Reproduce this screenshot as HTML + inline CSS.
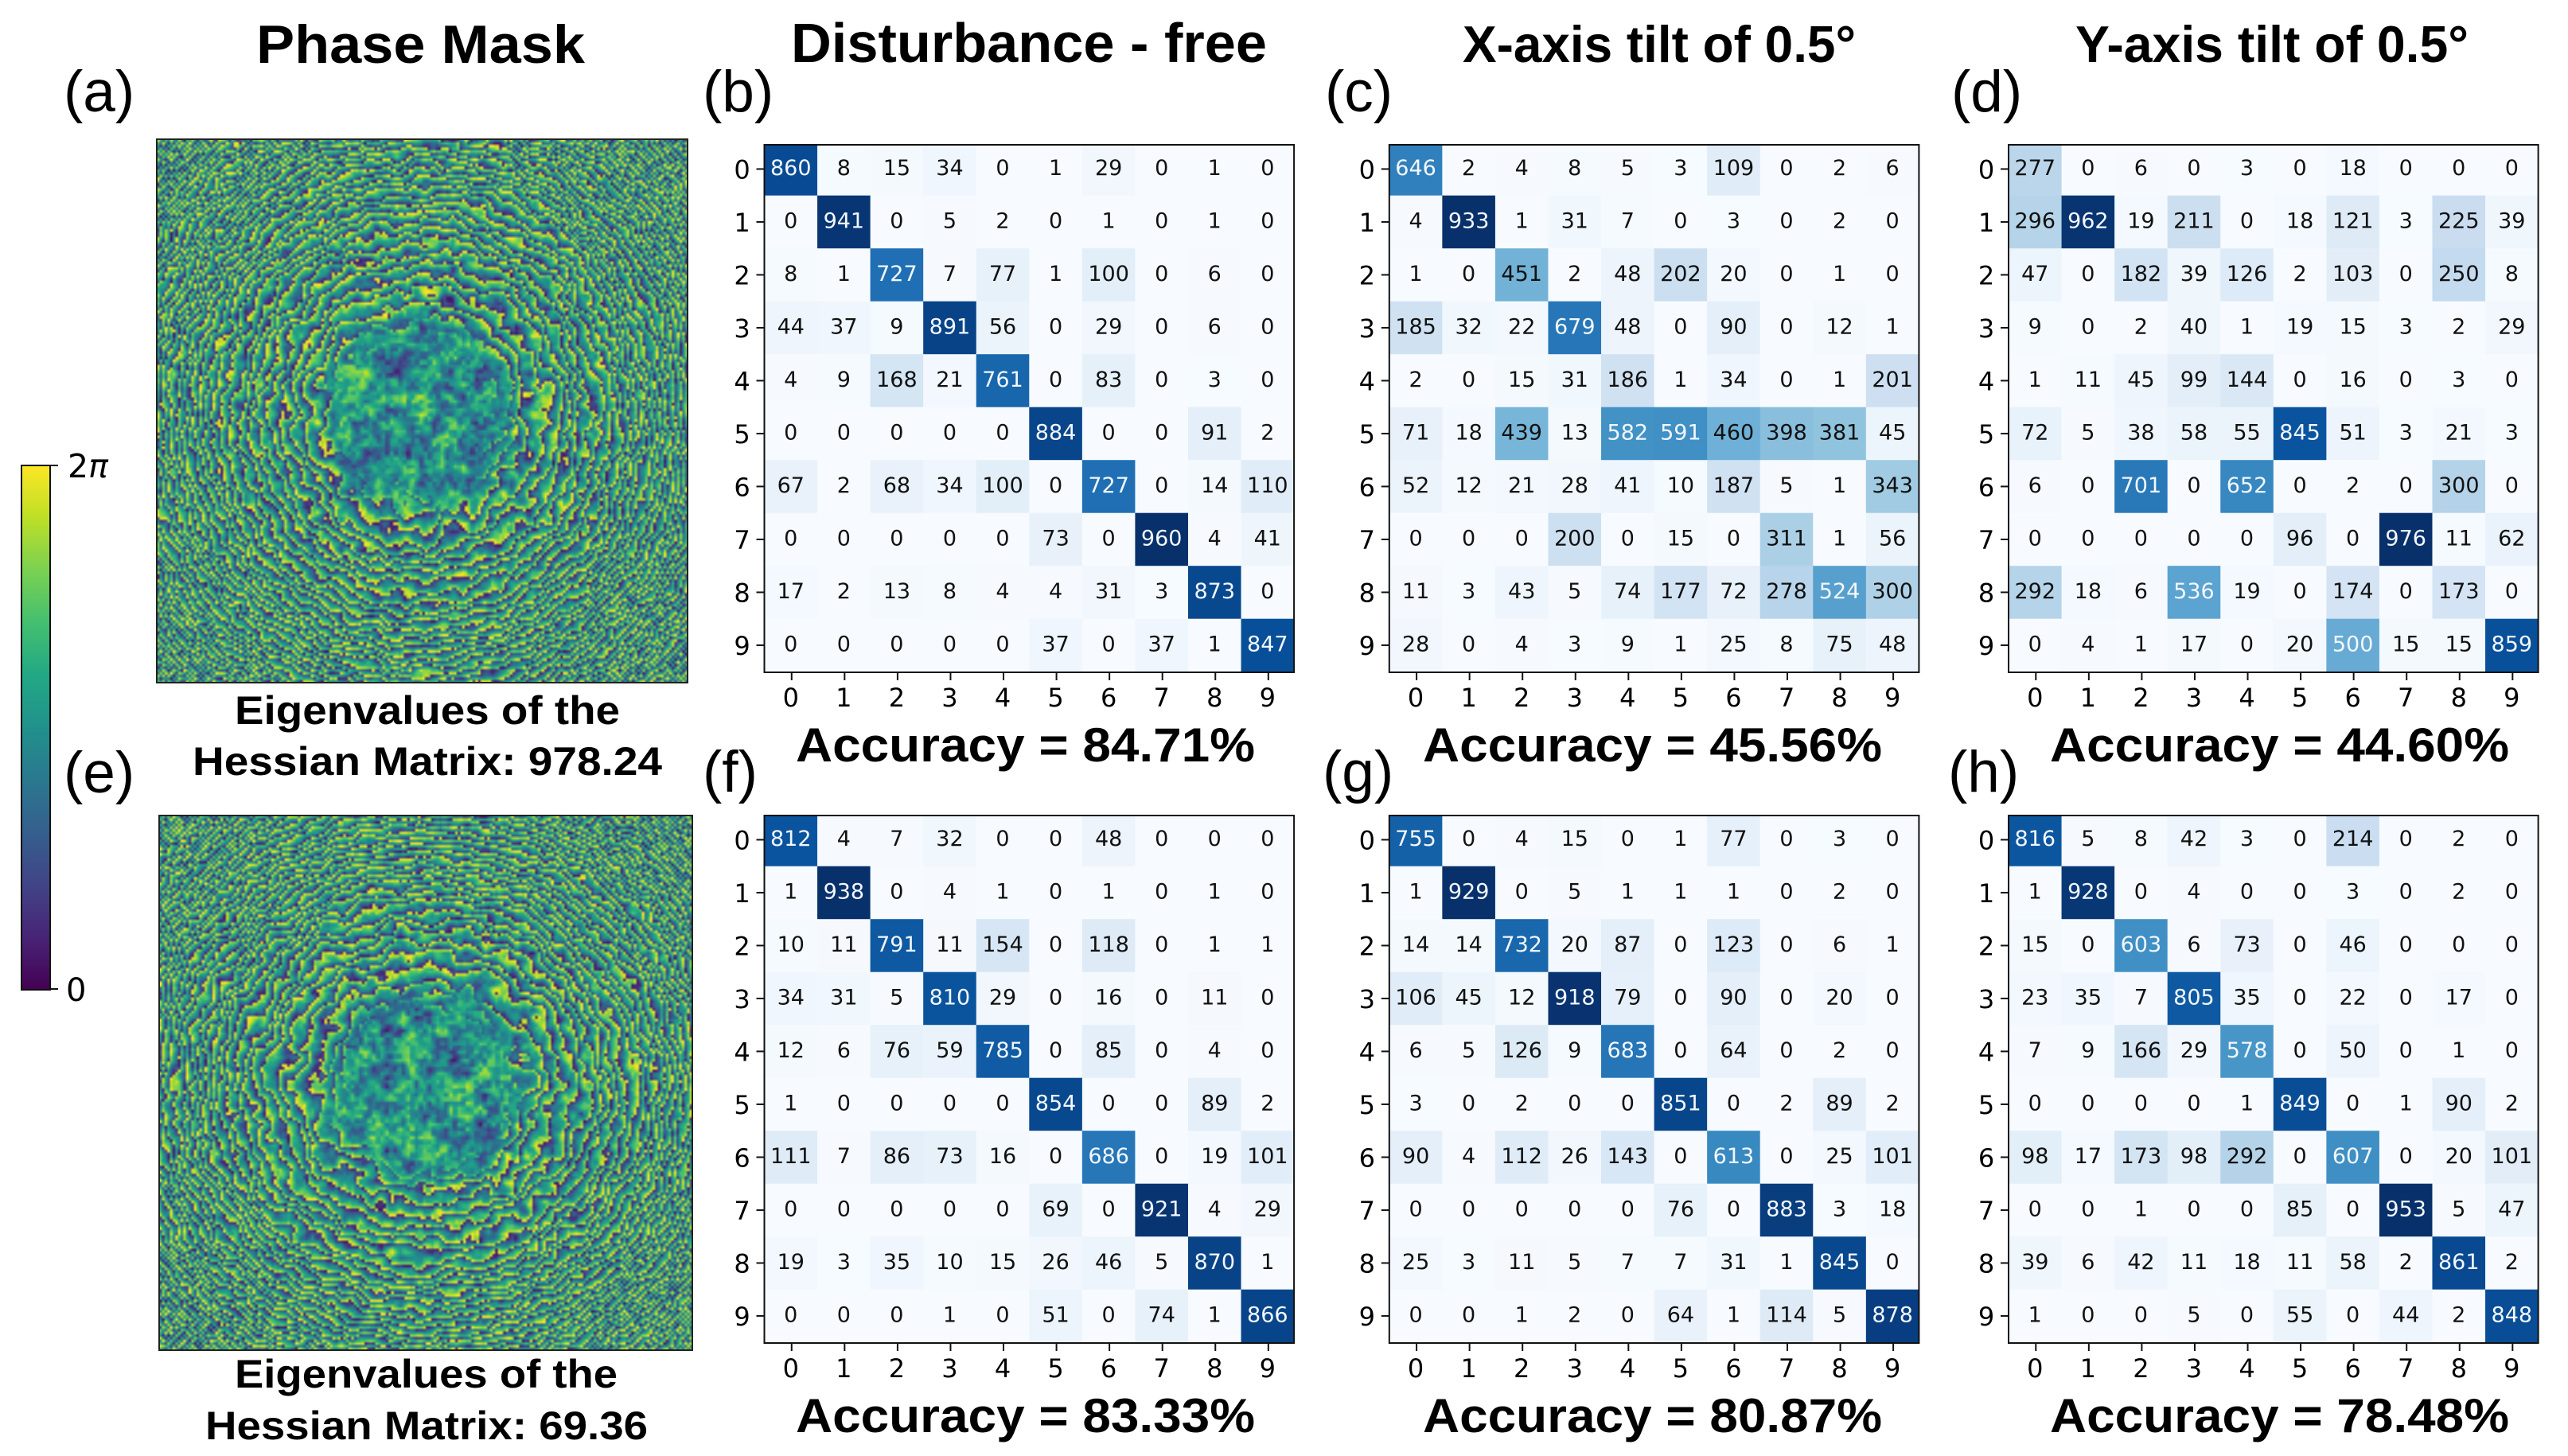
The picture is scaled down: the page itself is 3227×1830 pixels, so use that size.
<!DOCTYPE html>
<html lang="en">
<head>
<meta charset="utf-8">
<title>Phase masks and confusion matrices</title>
<style>
html,body{margin:0;padding:0;background:#fff;}
body{position:relative;width:3227px;height:1830px;overflow:hidden;}
canvas{position:absolute;display:block;}
svg{position:absolute;left:0;top:0;}
.b{font-family:"Liberation Sans",sans-serif;font-weight:700;fill:#000;}
.p{font-family:"Liberation Sans",sans-serif;font-size:73px;fill:#000;}
.d{font-family:"DejaVu Sans",sans-serif;fill:#000;}
</style>
</head>
<body>
<canvas id="mask-top" width="200" height="200" style="left:197px;top:175px;width:667px;height:683px"></canvas>
<canvas id="mask-bottom" width="200" height="200" style="left:200px;top:1025px;width:670px;height:672px"></canvas>
<svg id="fig" width="3227" height="1830" viewBox="0 0 3227 1830" xmlns="http://www.w3.org/2000/svg">
<defs>
<linearGradient id="viridis" x1="0" y1="1" x2="0" y2="0">
<stop offset="0" stop-color="#440154"/><stop offset=".1" stop-color="#482475"/><stop offset=".2" stop-color="#414487"/><stop offset=".3" stop-color="#355f8d"/><stop offset=".4" stop-color="#2a788e"/><stop offset=".5" stop-color="#21918c"/><stop offset=".6" stop-color="#22a884"/><stop offset=".7" stop-color="#44bf70"/><stop offset=".8" stop-color="#7ad151"/><stop offset=".9" stop-color="#bddf26"/><stop offset="1" stop-color="#fde725"/>
</linearGradient>
</defs>
<rect x="197" y="175" width="667" height="683" fill="none" stroke="#222" stroke-width="2"/>
<rect x="200" y="1025" width="670" height="672" fill="none" stroke="#222" stroke-width="2"/>

<text class="b" x="322" y="79" font-size="68" textLength="413" lengthAdjust="spacingAndGlyphs">Phase Mask</text>
<text class="b" x="994" y="78" font-size="70" textLength="598" lengthAdjust="spacingAndGlyphs">Disturbance - free</text>
<text class="b" x="1838" y="78" font-size="65" textLength="494" lengthAdjust="spacingAndGlyphs">X-axis tilt of 0.5°</text>
<text class="b" x="2608" y="78" font-size="65" textLength="494" lengthAdjust="spacingAndGlyphs">Y-axis tilt of 0.5°</text>

<text class="p" x="80" y="140">(a)</text>
<text class="p" x="883" y="140">(b)</text>
<text class="p" x="1665" y="140">(c)</text>
<text class="p" x="2452" y="140">(d)</text>
<text class="p" x="80" y="996">(e)</text>
<text class="p" x="883" y="995">(f)</text>
<text class="p" x="1662" y="995">(g)</text>
<text class="p" x="2448" y="995">(h)</text>

<text class="b" x="295" y="910" font-size="50" textLength="484" lengthAdjust="spacingAndGlyphs">Eigenvalues of the</text>
<text class="b" x="242" y="974" font-size="50" textLength="590" lengthAdjust="spacingAndGlyphs">Hessian Matrix: 978.24</text>
<text class="b" x="295" y="1744" font-size="50" textLength="481" lengthAdjust="spacingAndGlyphs">Eigenvalues of the</text>
<text class="b" x="258" y="1809" font-size="50" textLength="556" lengthAdjust="spacingAndGlyphs">Hessian Matrix: 69.36</text>

<text class="b" x="1000" y="957" font-size="60" textLength="577" lengthAdjust="spacingAndGlyphs">Accuracy = 84.71%</text>
<text class="b" x="1788" y="957" font-size="60" textLength="577" lengthAdjust="spacingAndGlyphs">Accuracy = 45.56%</text>
<text class="b" x="2576" y="957" font-size="60" textLength="577" lengthAdjust="spacingAndGlyphs">Accuracy = 44.60%</text>
<text class="b" x="1000" y="1800" font-size="60" textLength="577" lengthAdjust="spacingAndGlyphs">Accuracy = 83.33%</text>
<text class="b" x="1788" y="1800" font-size="60" textLength="577" lengthAdjust="spacingAndGlyphs">Accuracy = 80.87%</text>
<text class="b" x="2576" y="1800" font-size="60" textLength="577" lengthAdjust="spacingAndGlyphs">Accuracy = 78.48%</text>

<g>
<rect x="27" y="585" width="36" height="659" fill="url(#viridis)" stroke="#111" stroke-width="2"/>
<line x1="63" x2="73" y1="585" y2="585" stroke="#111" stroke-width="2"/>
<line x1="63" x2="73" y1="1243" y2="1243" stroke="#111" stroke-width="2"/>
<text class="d" x="85" y="600" font-size="41">2<tspan font-style="italic">π</tspan></text>
<text class="d" x="83" y="1258" font-size="40">0</text>
</g>
</svg>
<script>
/* ---------- chart data ---------- */
var categories = ["0","1","2","3","4","5","6","7","8","9"];
var tickLabels = ["0","1","2","3","4","5","6","7","8","9"];
var matrixB = [
[860,8,15,34,0,1,29,0,1,0],
[0,941,0,5,2,0,1,0,1,0],
[8,1,727,7,77,1,100,0,6,0],
[44,37,9,891,56,0,29,0,6,0],
[4,9,168,21,761,0,83,0,3,0],
[0,0,0,0,0,884,0,0,91,2],
[67,2,68,34,100,0,727,0,14,110],
[0,0,0,0,0,73,0,960,4,41],
[17,2,13,8,4,4,31,3,873,0],
[0,0,0,0,0,37,0,37,1,847]];
var matrixC = [
[646,2,4,8,5,3,109,0,2,6],
[4,933,1,31,7,0,3,0,2,0],
[1,0,451,2,48,202,20,0,1,0],
[185,32,22,679,48,0,90,0,12,1],
[2,0,15,31,186,1,34,0,1,201],
[71,18,439,13,582,591,460,398,381,45],
[52,12,21,28,41,10,187,5,1,343],
[0,0,0,200,0,15,0,311,1,56],
[11,3,43,5,74,177,72,278,524,300],
[28,0,4,3,9,1,25,8,75,48]];
var matrixD = [
[277,0,6,0,3,0,18,0,0,0],
[296,962,19,211,0,18,121,3,225,39],
[47,0,182,39,126,2,103,0,250,8],
[9,0,2,40,1,19,15,3,2,29],
[1,11,45,99,144,0,16,0,3,0],
[72,5,38,58,55,845,51,3,21,3],
[6,0,701,0,652,0,2,0,300,0],
[0,0,0,0,0,96,0,976,11,62],
[292,18,6,536,19,0,174,0,173,0],
[0,4,1,17,0,20,500,15,15,859]];
var matrixF = [
[812,4,7,32,0,0,48,0,0,0],
[1,938,0,4,1,0,1,0,1,0],
[10,11,791,11,154,0,118,0,1,1],
[34,31,5,810,29,0,16,0,11,0],
[12,6,76,59,785,0,85,0,4,0],
[1,0,0,0,0,854,0,0,89,2],
[111,7,86,73,16,0,686,0,19,101],
[0,0,0,0,0,69,0,921,4,29],
[19,3,35,10,15,26,46,5,870,1],
[0,0,0,1,0,51,0,74,1,866]];
var matrixG = [
[755,0,4,15,0,1,77,0,3,0],
[1,929,0,5,1,1,1,0,2,0],
[14,14,732,20,87,0,123,0,6,1],
[106,45,12,918,79,0,90,0,20,0],
[6,5,126,9,683,0,64,0,2,0],
[3,0,2,0,0,851,0,2,89,2],
[90,4,112,26,143,0,613,0,25,101],
[0,0,0,0,0,76,0,883,3,18],
[25,3,11,5,7,7,31,1,845,0],
[0,0,1,2,0,64,1,114,5,878]];
var matrixH = [
[816,5,8,42,3,0,214,0,2,0],
[1,928,0,4,0,0,3,0,2,0],
[15,0,603,6,73,0,46,0,0,0],
[23,35,7,805,35,0,22,0,17,0],
[7,9,166,29,578,0,50,0,1,0],
[0,0,0,0,1,849,0,1,90,2],
[98,17,173,98,292,0,607,0,20,101],
[0,0,1,0,0,85,0,953,5,47],
[39,6,42,11,18,11,58,2,861,2],
[1,0,0,5,0,55,0,44,2,848]];

/* ---------- layout (separate from data) ---------- */
var SVGNS = "http://www.w3.org/2000/svg";
var PLOT_W = 665.6, PLOT_H = 663, ROW_H = 66.5, ROW_SHIFT = -2.8;
var blues = [[247,251,255],[222,235,247],[198,219,239],[158,202,225],[107,174,214],[66,146,198],[33,113,181],[8,81,156],[8,48,107]];

function bluesColor(t){
  var s = Math.max(0, Math.min(1, t)) * 8, i = Math.min(7, Math.floor(s)), f = s - i;
  var a = blues[i], b = blues[i + 1];
  return "rgb(" + Math.round(a[0] + (b[0] - a[0]) * f) + "," + Math.round(a[1] + (b[1] - a[1]) * f) + "," + Math.round(a[2] + (b[2] - a[2]) * f) + ")";
}
function xScale(left, i){ return left + i * PLOT_W / categories.length; }
function yScale(top, i){ return top + ROW_SHIFT + i * ROW_H; }
function svgEl(tag){ return document.createElementNS(SVGNS, tag); }

function drawMatrix(id, matrix, left, top){
  var root = document.getElementById("fig");
  var g = svgEl("g");
  
  
  root.appendChild(g);
  var maxV = 0;
  matrix.forEach(function(row){ row.forEach(function(v){ if (v > maxV) maxV = v; }); });
  var n = categories.length, cw = PLOT_W / n;
  matrix.forEach(function(row, r){
    row.forEach(function(v, c){
      var y0 = Math.max(top, yScale(top, r)), y1 = Math.min(top + PLOT_H, yScale(top, r + 1));
      var cell = svgEl("rect");
      cell.setAttribute("x", xScale(left, c));
      cell.setAttribute("y", y0);
      cell.setAttribute("width", cw + 0.4);
      cell.setAttribute("height", y1 - y0 + 0.4);
      cell.setAttribute("fill", bluesColor(v / maxV));
      
      
      g.appendChild(cell);
    });
  });
  matrix.forEach(function(row, r){
    row.forEach(function(v, c){
      var t = svgEl("text");
      t.setAttribute("class", "d");
      t.setAttribute("x", xScale(left, c) + cw / 2);
      t.setAttribute("y", yScale(top, r) + ROW_H / 2 + 7.5);
      t.setAttribute("font-size", "27");
      t.setAttribute("text-anchor", "middle");
      t.setAttribute("style", "fill:" + (v > maxV / 2 ? "#f2f7fb" : "#111"));
      
      
      t.textContent = v;
      g.appendChild(t);
    });
  });
  var frame = svgEl("rect");
  frame.setAttribute("x", left);
  frame.setAttribute("y", top);
  frame.setAttribute("width", PLOT_W);
  frame.setAttribute("height", PLOT_H);
  frame.setAttribute("fill", "none");
  frame.setAttribute("stroke", "#111");
  frame.setAttribute("stroke-width", "2");
  
  
  g.appendChild(frame);
  tickLabels.forEach(function(lab, i){
    var cx = xScale(left, i) + cw / 2 + 1, cy = yScale(top, i) + ROW_H / 2;
    var tx = svgEl("line");
    tx.setAttribute("x1", cx); tx.setAttribute("x2", cx);
    tx.setAttribute("y1", top + PLOT_H); tx.setAttribute("y2", top + PLOT_H + 10);
    tx.setAttribute("stroke", "#111"); tx.setAttribute("stroke-width", "2");
    
    
    g.appendChild(tx);
    var ty = svgEl("line");
    ty.setAttribute("x1", left - 10); ty.setAttribute("x2", left);
    ty.setAttribute("y1", cy); ty.setAttribute("y2", cy);
    ty.setAttribute("stroke", "#111"); ty.setAttribute("stroke-width", "2");
    
    
    g.appendChild(ty);
    var lx = svgEl("text");
    lx.setAttribute("class", "d");
    lx.setAttribute("x", cx - 1); lx.setAttribute("y", top + PLOT_H + 43);
    lx.setAttribute("font-size", "32"); lx.setAttribute("text-anchor", "middle");
    
    
    lx.textContent = lab;
    g.appendChild(lx);
    var ly = svgEl("text");
    ly.setAttribute("class", "d");
    ly.setAttribute("x", left - 28); ly.setAttribute("y", cy + 12);
    ly.setAttribute("font-size", "32"); ly.setAttribute("text-anchor", "middle");
    
    
    ly.textContent = lab;
    g.appendChild(ly);
  });
}
drawMatrix("b", matrixB, 960.5, 182);
drawMatrix("c", matrixC, 1745.8, 182);
drawMatrix("d", matrixD, 2524, 182);
drawMatrix("f", matrixF, 960.5, 1025);
drawMatrix("g", matrixG, 1745.8, 1025);
drawMatrix("h", matrixH, 2524, 1025);

/* ---------- phase mask texture ---------- */
var viridisStops = [[68,1,84],[72,36,117],[65,68,135],[53,95,141],[42,120,142],[33,145,140],[34,168,132],[68,191,112],[122,209,81],[189,223,38],[253,231,37]];
function viridis(t){
  var s = Math.max(0, Math.min(1, t)) * 10, i = Math.min(9, Math.floor(s)), f = s - i;
  var a = viridisStops[i], b = viridisStops[i + 1];
  return [a[0] + (b[0] - a[0]) * f, a[1] + (b[1] - a[1]) * f, a[2] + (b[2] - a[2]) * f];
}
function makeNoise(seed){
  var perm = [], st = seed >>> 0;
  function rnd(){ st = (st + 0x6D2B79F5) >>> 0; var z = st; z = Math.imul(z ^ (z >>> 15), z | 1); z ^= z + Math.imul(z ^ (z >>> 7), z | 61); return ((z ^ (z >>> 14)) >>> 0) / 4294967296; }
  for (var i = 0; i < 65536; i++) perm.push(rnd());
  function lat(x, y){ return perm[(((x & 255) << 8) | (y & 255))]; }
  function sm(t){ return t * t * (3 - 2 * t); }
  return {
    white: rnd,
    at: function(x, y){
      var xi = Math.floor(x), yi = Math.floor(y), fx = sm(x - xi), fy = sm(y - yi);
      var a = lat(xi, yi), b = lat(xi + 1, yi), c = lat(xi, yi + 1), d = lat(xi + 1, yi + 1);
      return a + (b - a) * fx + (c - a) * fy + (a - b - c + d) * fx * fy;
    }
  };
}
function paintMask(id, seed, cx, cy, ex, ey, rate, coreR){
  var cv = document.getElementById(id), ctx = cv.getContext("2d");
  var img = ctx.createImageData(200, 200), nz = makeNoise(seed);
  for (var j = 0; j < 200; j++) for (var i = 0; i < 200; i++){
    var x = (i - cx) * ex, y = (j - cy) * ey, r = Math.sqrt(x * x + y * y);
    var phi = rate * r * r + 1.5 * nz.at(i / 10 + 40, j / 10 + 7) + 0.95 * nz.at(i / 3.6 + 9, j / 3.6 + 91) + 0.35 * nz.at(i / 1.5 + 60, j / 1.5 + 13);
    var v = phi - Math.floor(phi);
    var u = 2 * v - 1, sh = 0.5 + 0.5 * (u < 0 ? -1 : 1) * Math.pow(Math.abs(u), 1.25);
    sh = sh * 0.96 + 0.05;
    var coreEdge = coreR + 12 * (nz.at(i / 7 + 3, j / 7 + 55) - 0.5);
    var core = 0.5 + 0.5 * (nz.at(i / 5 + 70, j / 5 + 20) - 0.5) + 0.5 * (nz.at(i / 1.6 + 11, j / 1.6 + 31) - 0.5);
    var mix = Math.max(0, Math.min(1, (r - coreEdge) / 10));
    var out = core * (1 - mix) + sh * mix;
    var c = viridis(out), p = (j * 200 + i) * 4;
    img.data[p] = c[0]; img.data[p + 1] = c[1]; img.data[p + 2] = c[2]; img.data[p + 3] = 255;
  }
  ctx.putImageData(img, 0, 0);
}
paintMask("mask-top", 11, 99, 100, 1, 1, 0.0021, 27);
paintMask("mask-bottom", 29, 100, 101, 0.96, 1.03, 0.0021, 29);
</script>
</body>
</html>
